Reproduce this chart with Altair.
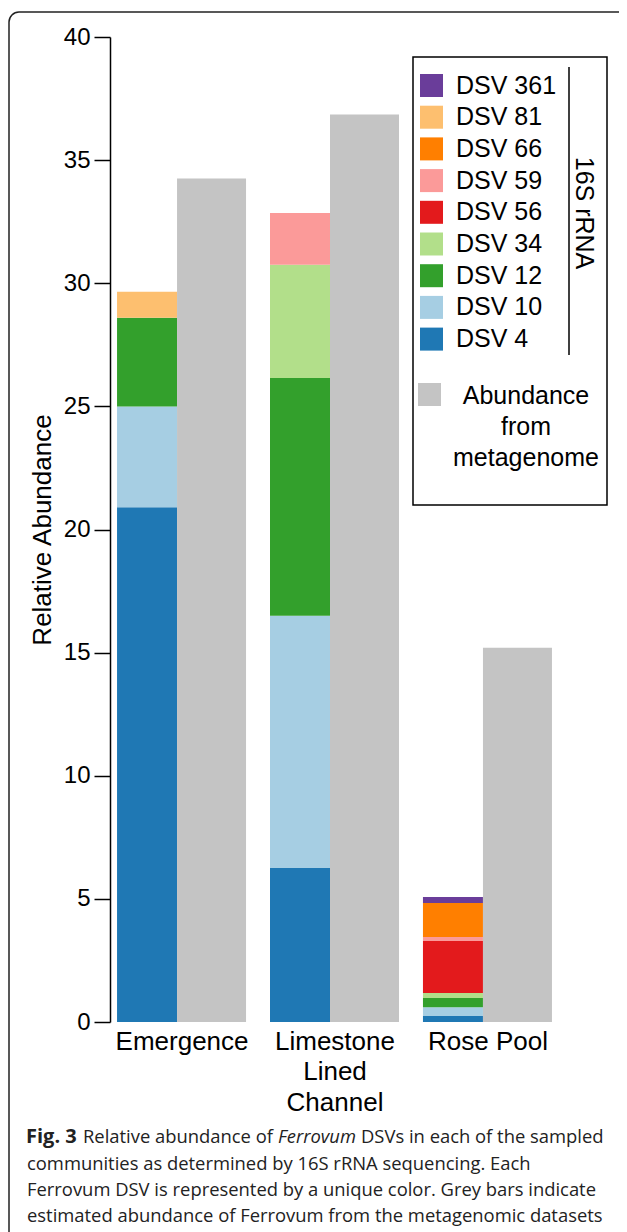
import altair as alt
import pandas as pd

# ---------------- data ----------------
sites = ["Emergence", "Limestone Lined Channel", "Rose Pool"]

# stacking order, bottom to top
dsv_stack = ["DSV 4", "DSV 10", "DSV 12", "DSV 34", "DSV 56", "DSV 59", "DSV 66", "DSV 81", "DSV 361"]
dsv_colors = ["#1f78b4", "#a6cee3", "#33a02c", "#b2df8a", "#e31a1c", "#fb9a99", "#ff7f00", "#fdbf6f", "#6a3d9a"]

# values per DSV, one per site (Emergence, Limestone Lined Channel, Rose Pool)
dsv4 = [20.9, 6.25, 0.24]
dsv10 = [4.1, 10.25, 0.36]
dsv12 = [3.6, 9.65, 0.37]
dsv34 = [0.0, 4.6, 0.21]
dsv56 = [0.0, 0.0, 2.11]
dsv59 = [0.0, 2.1, 0.16]
dsv66 = [0.0, 0.0, 1.38]
dsv81 = [1.05, 0.0, 0.0]
dsv361 = [0.0, 0.0, 0.25]

metagenome = [34.25, 36.85, 15.2]
metagenome_label = "Abundance from metagenome"
metagenome_label_lines = ["Abundance", "from", "metagenome"]

y_ticks = [0, 5, 10, 15, 20, 25, 30, 35, 40]

caption_l1 = ["Fig. 3", "Relative abundance of", "Ferrovum", "DSVs in each of the sampled"]
caption_l2 = "communities as determined by 16S rRNA sequencing. Each"
caption_l3 = "Ferrovum DSV is represented by a unique color. Grey bars indicate"
caption_l4 = "estimated abundance of Ferrovum from the metagenomic datasets"

# ---------------- tables ----------------
series = [dsv4, dsv10, dsv12, dsv34, dsv56, dsv59, dsv66, dsv81, dsv361]
rows = []
for rank, (name, vals) in enumerate(zip(dsv_stack, series)):
    for site, v in zip(sites, vals):
        if v > 0:
            rows.append({"site": site, "dsv": name, "value": v, "rank": rank})
df = pd.DataFrame(rows)
df_meta = pd.DataFrame({"site": sites, "value": metagenome, "source": [metagenome_label] * 3})

legend_order = list(reversed(dsv_stack))
legend_colors = list(reversed(dsv_colors))

FONT = "Liberation Sans"

x_scale = alt.Scale(paddingInner=0.15, paddingOuter=0.046)
x_axis = alt.Axis(
    title=None, domain=False, ticks=False, labelAngle=0, labelFontSize=26,
    labelColor="black", labelPadding=6, labelLineHeight=30.5, labelFont=FONT,
    labelExpr="datum.label == 'Limestone Lined Channel' ? ['Limestone', 'Lined', 'Channel'] : datum.label",
)
y_scale = alt.Scale(domain=[0, 40], nice=False)
y_axis = alt.Axis(
    values=y_ticks, grid=False, tickSize=16, tickColor="black", tickWidth=1.5,
    domainColor="black", domainWidth=1.5, labelFontSize=24, labelColor="black",
    labelPadding=4, labelFont=FONT, title="Relative Abundance", titleFontSize=26,
    titleFontWeight="normal", titleColor="black", titlePadding=8, titleFont=FONT,
)

stacked = alt.Chart(df).mark_bar(width=60, xOffset=-35).encode(
    x=alt.X("site:N", sort=sites, scale=x_scale, axis=x_axis),
    y=alt.Y("value:Q", stack="zero", scale=y_scale, axis=y_axis),
    color=alt.Color(
        "dsv:N",
        scale=alt.Scale(domain=legend_order, range=legend_colors),
        legend=alt.Legend(
            orient="none", legendX=309, legendY=36, title=None, direction="vertical",
            symbolType="square", symbolSize=529, symbolStrokeWidth=0,
            labelFontSize=25, labelFont=FONT, labelColor="black", labelOffset=12,
            rowPadding=5.7, padding=0,
        ),
    ),
    order=alt.Order("rank:Q", sort="ascending"),
)

grey = alt.Chart(df_meta).mark_bar(width=69, xOffset=29.5).encode(
    x=alt.X("site:N", sort=sites, scale=x_scale, axis=x_axis),
    y=alt.Y("value:Q", scale=y_scale, axis=y_axis),
    color=alt.Color(
        "source:N",
        scale=alt.Scale(domain=[metagenome_label], range=["#c4c4c4"]),
        legend=alt.Legend(
            orient="none", legendX=308, legendY=346, title=None, direction="vertical",
            symbolType="square", symbolSize=529, symbolStrokeWidth=0,
            labelExpr="''", labelOffset=0, padding=0,
        ),
    ),
)

one = pd.DataFrame({"k": [0]})

grey_label = alt.Chart(one).mark_text(
    align="center", baseline="top", fontSize=25, font=FONT, lineHeight=31, color="black"
).encode(x=alt.value(416), y=alt.value(346.5), text=alt.value(metagenome_label_lines))

legend_box = alt.Chart(one).mark_rect(fill="white", fillOpacity=0, stroke="black", strokeWidth=1.5).encode(
    x=alt.value(303), x2=alt.value(497), y=alt.value(20), y2=alt.value(468)
)
legend_rule = alt.Chart(one).mark_rule(color="black", strokeWidth=1.5).encode(
    x=alt.value(459), y=alt.value(30), y2=alt.value(318)
)
legend_title = alt.Chart(one).mark_text(
    angle=90, fontSize=25, font=FONT, align="center", baseline="middle", color="black"
).encode(x=alt.value(474), y=alt.value(176), text=alt.value("16S rRNA"))

frame = alt.Chart(one).mark_rect(
    fill="white", fillOpacity=0, stroke="#222", strokeWidth=1.5, cornerRadius=10
).encode(x=alt.value(-101), x2=alt.value(525), y=alt.value(-25), y2=alt.value(1220))

CAP_FONT = "Open Sans"
CAP_SIZE = 18.4
CAP_COLOR = "#222"


def cap(txt, x, y, weight="normal", style="normal", size=CAP_SIZE):
    return alt.Chart(one).mark_text(
        align="left", baseline="alphabetic", font=CAP_FONT, fontSize=size,
        fontWeight=weight, fontStyle=style, color=CAP_COLOR,
    ).encode(x=alt.value(x), y=alt.value(y), text=alt.value(txt))


captions = [
    cap(caption_l1[0], -84, 1106, weight="bold", size=20),
    cap(caption_l1[1], -27, 1106),
    cap(caption_l1[2], 168, 1106, style="italic"),
    cap(caption_l1[3], 251, 1106),
    cap(caption_l2, -83, 1132.5),
    cap(caption_l3, -83, 1159),
    cap(caption_l4, -83, 1185),
]

chart = alt.layer(
    frame, stacked, grey, legend_box, legend_rule, legend_title, grey_label, *captions
).resolve_scale(
    color="independent"
).properties(
    width=450, height=985,
    autosize=alt.AutoSizeParams(type="none"),
    padding={"left": 102, "top": 29, "right": 59, "bottom": 210},
).configure(font=FONT).configure_view(strokeWidth=0, strokeOpacity=0)

chart.save("out.html", embed_options={"renderer": "svg", "actions": False})
